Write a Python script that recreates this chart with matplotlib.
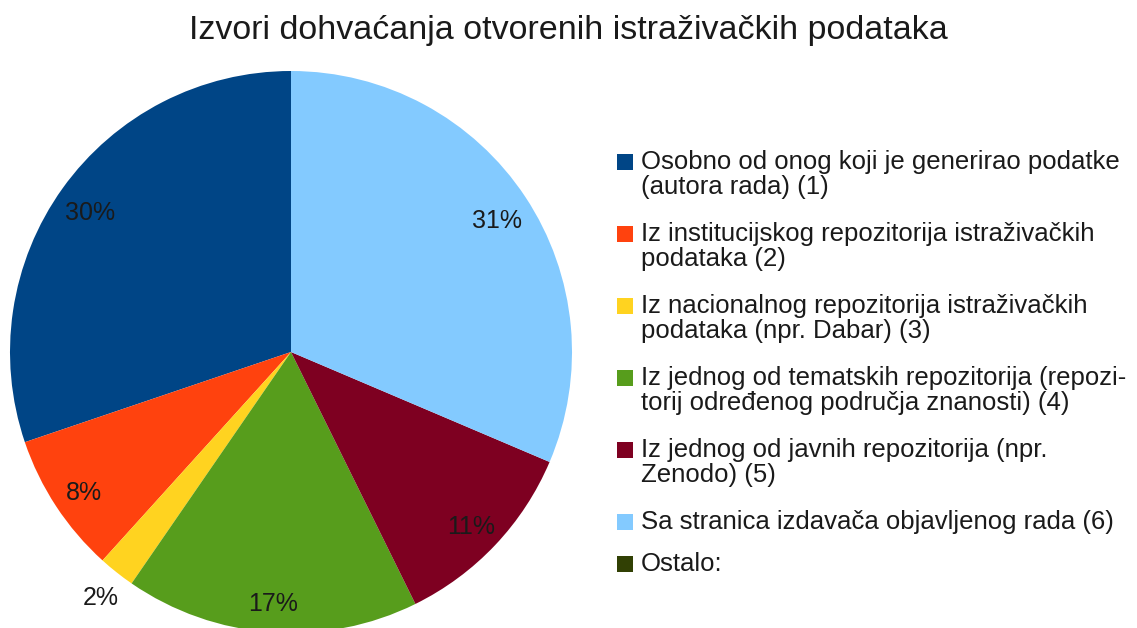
import matplotlib.pyplot as plt
from matplotlib.patches import Rectangle
import numpy as np

plt.rcParams['font.family'] = ['Liberation Sans', 'DejaVu Sans']

TITLE = "Izvori dohvaćanja otvorenih istraživačkih podataka"

labels = [
    "Osobno od onog koji je generirao podatke\n(autora rada) (1)",
    "Iz institucijskog repozitorija istraživačkih\npodataka (2)",
    "Iz nacionalnog repozitorija istraživačkih\npodataka (npr. Dabar) (3)",
    "Iz jednog od tematskih repozitorija (repozi-\ntorij određenog područja znanosti) (4)",
    "Iz jednog od javnih repozitorija (npr.\nZenodo) (5)",
    "Sa stranica izdavača objavljenog rada (6)",
    "Ostalo:",
]
values = [30.2, 8.1, 2.1, 16.9, 11.3, 31.4, 0.0]
colors = ['#004586', '#ff420e', '#ffd320', '#579d1c', '#7e0021', '#83caff', '#314004']

W, H = 1137, 628
fig = plt.figure(figsize=(W / 100, H / 100), dpi=100)

# pie axes: centre (291, 352) px, radius 281 px
cx, cy, r = 291, 352, 281
ax = fig.add_axes([(cx - r) / W, (H - cy - r) / H, 2 * r / W, 2 * r / H])
nz = [(v, c) for v, c in zip(values, colors) if v > 0]
wedges, _ = ax.pie([v for v, _ in nz], colors=[c for _, c in nz],
                   startangle=90, counterclock=True, radius=1,
                   wedgeprops=dict(linewidth=0))
ax.set_xlim(-1, 1)
ax.set_ylim(-1, 1)
ax.set_aspect('auto')
ax.axis('off')

total = sum(v for v, _ in nz)
for w, (v, c) in zip(wedges, nz):
    mid = np.deg2rad((w.theta1 + w.theta2) / 2)
    pct = v / total * 100
    d = 0.88 if pct > 4 else 1.09
    ax.annotate(f"{pct:.0f}%", (d * np.cos(mid), d * np.sin(mid)),
                xytext=(0, -4), textcoords='offset points',
                ha='center', va='center', fontsize=18, color='#1a1a1a')

fig.text(0.5, 1 - 31 / H, TITLE, ha='center', va='center', fontsize=24.5,
         color='#1a1a1a')

# legend drawn by hand: square beside the first line of each entry
y = 162
for lab, col in zip(labels, colors):
    n = lab.count('\n') + 1
    fig.patches.append(Rectangle((617 / W, 1 - (y + 8) / H), 16 / W, 16 / H,
                                 transform=fig.transFigure, facecolor=col,
                                 edgecolor='none'))
    fig.text(641 / W, 1 - (y - 12) / H, lab, ha='left', va='top',
             fontsize=18.5, color='#1a1a1a', linespacing=1.05)
    y += 42 if n == 1 else 72

fig.savefig('out.png', dpi=100)
